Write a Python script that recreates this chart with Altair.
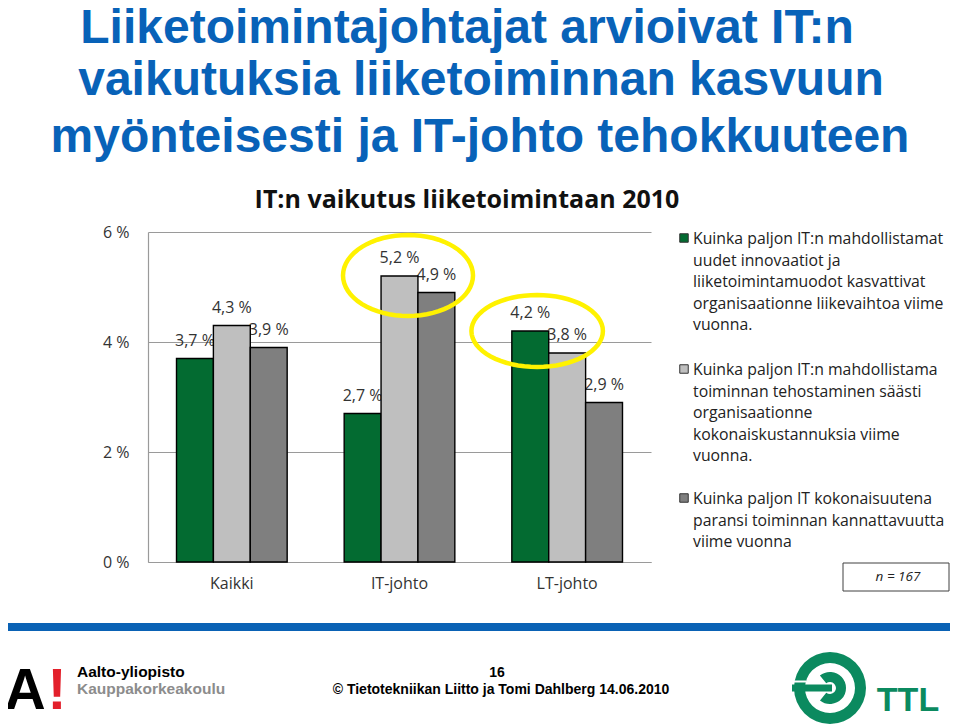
import math
import altair as alt
import pandas as pd

# ---------------- data ----------------
categories = ["Kaikki", "IT-johto", "LT-johto"]
series_keys = ["innovaatiot", "tehostaminen", "kannattavuus"]
innovaatiot = [3.7, 2.7, 4.2]
tehostaminen = [4.3, 5.2, 3.8]
kannattavuus = [3.9, 4.9, 2.9]
y_ticks = [0, 2, 4, 6]
series_colors = ["#036B31", "#BFBFBF", "#7F7F7F"]

legend_texts = [
    "Kuinka paljon IT:n mahdollistamat\nuudet innovaatiot ja\nliiketoimintamuodot kasvattivat\norganisaationne liikevaihtoa viime\nvuonna.",
    "Kuinka paljon IT:n mahdollistama\ntoiminnan tehostaminen säästi\norganisaationne\nkokonaiskustannuksia viime\nvuonna.",
    "Kuinka paljon IT kokonaisuutena\nparansi toiminnan kannattavuutta\nviime vuonna",
]
title_lines = [
    "Liiketoimintajohtajat arvioivat IT:n",
    "vaikutuksia liiketoiminnan kasvuun",
    "myönteisesti ja IT-johto tehokkuuteen",
]
chart_title = "IT:n vaikutus liiketoimintaan 2010"
n_text = "n = 167"
highlight_cats = ["IT-johto", "LT-johto"]
highlight_vals = [5.21, 4.2]
footer_page = "16"
footer_copy = "© Tietotekniikan Liitto ja Tomi Dahlberg 14.06.2010"

# ---------------- table ----------------
rows = []
for key, vals in zip(series_keys, [innovaatiot, tehostaminen, kannattavuus]):
    for c, v in zip(categories, vals):
        rows.append({"cat": c, "series": key, "val": v,
                     "label": f"{v:.1f}".replace(".", ",") + " %"})
df = pd.DataFrame(rows)
hl = pd.DataFrame({"cat": highlight_cats, "val": highlight_vals})

# ---------------- layout ----------------
OX, OY = 148, 232          # page position of plot origin
W, H = 503, 330
FONT = "Open Sans"
SANS = "Liberation Sans"

def px(x):
    return x - OX

def py(y):
    return y - OY

one = alt.Data(values=[{"k": 0}])

def txt(s, x, y, **kw):
    return alt.Chart(one).mark_text(text=s, **kw).encode(
        x=alt.value(px(x)), y=alt.value(py(y)))

def box(x1, x2, y1, y2, **kw):
    return alt.Chart(one).mark_rect(**kw).encode(
        x=alt.value(px(x1)), x2=alt.value(px(x2)),
        y=alt.value(py(y1)), y2=alt.value(py(y2)))

def ellipse_path(ry, n=64):
    pts = [(math.cos(2 * math.pi * i / n), ry * math.sin(2 * math.pi * i / n)) for i in range(n)]
    return "M" + "L".join(f"{a:.4f},{b:.4f}" for a, b in pts) + "Z"

xscale = alt.Scale(domain=categories, paddingInner=0.34, paddingOuter=0.17)
yscale = alt.Scale(domain=[0, 6], nice=False)
xenc = alt.X("cat:N", scale=xscale, title=None,
             axis=alt.Axis(labelAngle=0, labelFont=FONT, labelFontSize=16,
                           labelColor="#333333", labelPadding=13, ticks=False,
                           domainColor="#9A9A9A", domainWidth=1.2))
yenc = alt.Y("val:Q", scale=yscale, title=None,
             axis=alt.Axis(values=y_ticks, labelExpr="datum.value + ' %'",
                           labelFont=FONT, labelFontSize=16, labelColor="#333333",
                           labelPadding=19, ticks=False, grid=True,
                           gridColor="#9A9A9A", gridWidth=1.2,
                           domainColor="#9A9A9A", domainWidth=1.2))
xoff = alt.XOffset("series:N", sort=series_keys,
                   scale=alt.Scale(domain=series_keys, paddingInner=0, paddingOuter=0))

labels = alt.Chart(df).mark_text(dy=-18, font=FONT, fontSize=16, color="#333333").encode(
    x=xenc, xOffset=xoff, y=yenc, text="label:N")

bars = alt.Chart(df).mark_bar(stroke="#000000", strokeWidth=1.4).encode(
    x=xenc, xOffset=xoff, y=yenc,
    color=alt.Color("series:N", scale=alt.Scale(domain=series_keys, range=series_colors), legend=None))

ell1 = alt.Chart(hl).transform_filter(alt.datum.cat == highlight_cats[0]).mark_point(
    shape=ellipse_path(81 / 130), size=130 ** 2, xOffset=8.5, filled=False,
    stroke="#FFF200", strokeWidth=4.5, opacity=1).encode(
    x=alt.X("cat:N", scale=xscale), y=alt.Y("val:Q", scale=yscale))
ell2 = alt.Chart(hl).transform_filter(alt.datum.cat == highlight_cats[1]).mark_point(
    shape=ellipse_path(72 / 131.5), size=131.5 ** 2, xOffset=-30, filled=False,
    stroke="#FFF200", strokeWidth=4.5, opacity=1).encode(
    x=alt.X("cat:N", scale=xscale), y=alt.Y("val:Q", scale=yscale))

layers = [labels, bars, ell1, ell2]

# chart title
layers.append(txt(chart_title, 467, 208, font=FONT, fontSize=25, fontWeight="bold",
                  color="#111111", align="center", baseline="alphabetic"))

# slide title
for line, cx, by in zip(title_lines, [467, 481, 480], [43, 95, 152]):
    layers.append(txt(line, cx, by, font=SANS, fontSize=48, fontWeight="bold",
                      color="#0862B8", align="center", baseline="alphabetic"))

# legend
for t, col, yc in zip(legend_texts, series_colors, [238, 369, 498]):
    layers.append(alt.Chart(one).mark_square(size=72, color=col, stroke="#333333",
                                             strokeWidth=1, opacity=1).encode(
        x=alt.value(px(684)), y=alt.value(py(yc))))
    layers.append(txt(t, 693, yc + 6, font=FONT, fontSize=15.8, color="#222222",
                      align="left", baseline="alphabetic", lineBreak="\n", lineHeight=21.6))

# n box
layers.append(box(843, 949, 563, 591, fill="white", stroke="#404040", strokeWidth=1))
layers.append(txt(n_text, 898, 577, font=FONT, fontSize=13.5, fontStyle="italic",
                  color="#222222", align="center", baseline="middle"))

# footer bar
layers.append(box(2, 950, 623, 631, fill="#0A62B5", strokeWidth=0))

# Aalto logo
layers.append(txt("A", 25, 709, font=SANS, fontSize=57, fontWeight="bold",
                  color="#000000", align="center", baseline="alphabetic"))
layers.append(txt("!", 57, 709, font=SANS, fontSize=57, fontWeight="bold",
                  color="#E3202B", align="center", baseline="alphabetic"))
layers.append(txt("Aalto-yliopisto", 77, 677, font=SANS, fontSize=15.5, fontWeight="bold",
                  color="#000000", align="left", baseline="alphabetic"))
layers.append(txt("Kauppakorkeakoulu", 77, 694, font=SANS, fontSize=15.5, fontWeight="bold",
                  color="#8C8C8C", align="left", baseline="alphabetic"))

# footer center
layers.append(txt(footer_page, 497, 677, font=SANS, fontSize=14, fontWeight="bold",
                  color="#000000", align="center", baseline="alphabetic"))
layers.append(txt(footer_copy, 501, 694, font=SANS, fontSize=14, fontWeight="bold",
                  color="#000000", align="center", baseline="alphabetic"))

# TTL logo
TTL_GREEN = "#0B8A5F"
layers.append(alt.Chart(one).mark_arc(radius=36, radius2=25, theta=0, theta2=2 * math.pi,
                                      color=TTL_GREEN).encode(
    x=alt.value(px(830)), y=alt.value(py(688))))
layers.append(alt.Chart(one).mark_arc(radius=16, radius2=6, theta=5.6, theta2=10.1,
                                      color=TTL_GREEN).encode(
    x=alt.value(px(830)), y=alt.value(py(688))))
layers.append(box(792, 832, 684.5, 691.5, fill=TTL_GREEN, strokeWidth=0))
layers.append(box(791, 806, 680.5, 682.5, fill="white", strokeWidth=0))
layers.append(txt("TTL", 908, 711, font=SANS, fontSize=34, fontWeight="bold",
                  color=TTL_GREEN, align="center", baseline="alphabetic"))

chart = alt.layer(*layers).properties(
    width=W, height=H,
    autosize=alt.AutoSizeParams(type="none"),
    padding={"left": OX - 8, "top": OY - 8, "right": 943 - (OX - 8) - W,
             "bottom": 716 - (OY - 8) - H},
    background="white",
).configure_view(strokeWidth=0)

chart.save("out.html", embed_options={"renderer": "svg", "actions": False})
